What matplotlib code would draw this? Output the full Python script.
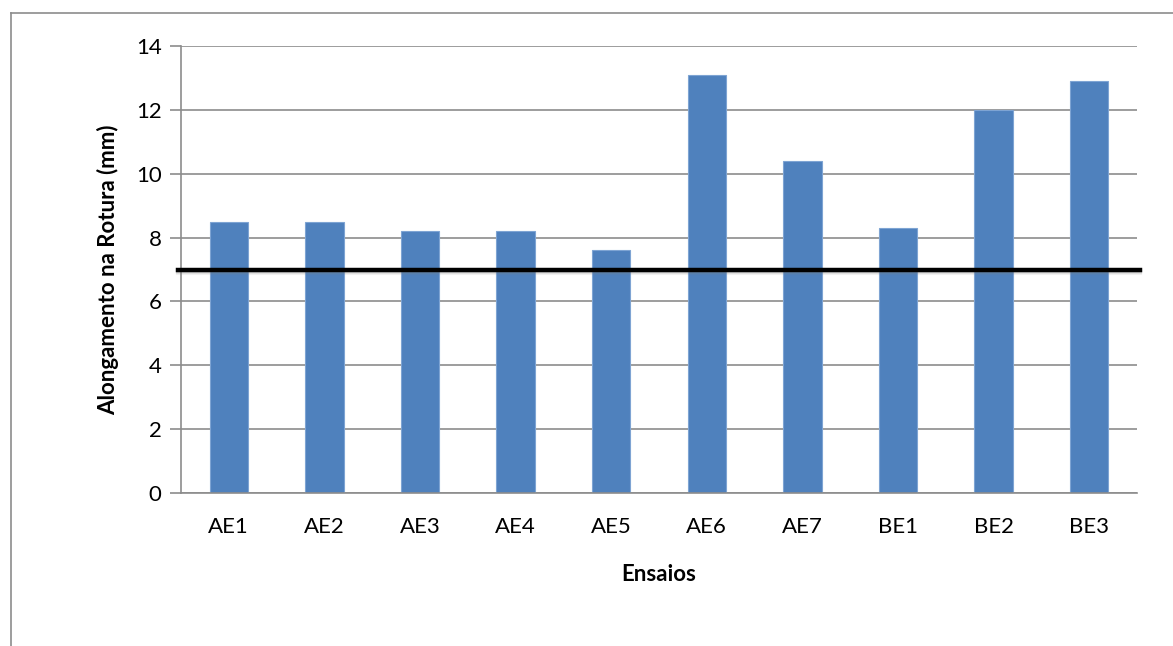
import numpy as np
import matplotlib.pyplot as plt

ensaios = ["AE1", "AE2", "AE3", "AE4", "AE5", "AE6", "AE7", "BE1", "BE2", "BE3"]
alongamento = [8.5, 8.5, 8.2, 8.2, 7.6, 13.1, 10.4, 8.3, 12.0, 12.9]
limite = 7.0

plt.rcParams['font.family'] = ['Lato', 'DejaVu Sans']

fig = plt.figure(figsize=(11.73, 6.46), dpi=100)
ax = fig.add_axes([181 / 1173, 1 - 493 / 646, (1137 - 181) / 1173, (493 - 46) / 646])

# chart area frame (left + top only, the rest is cut off)
fig.add_artist(plt.Line2D([10.5 / 1173, 10.5 / 1173], [0, 1 - 13 / 646],
                          transform=fig.transFigure, color='#8c8c8c', lw=1.2))
fig.add_artist(plt.Line2D([10.5 / 1173, 1], [1 - 13 / 646, 1 - 13 / 646],
                          transform=fig.transFigure, color='#8c8c8c', lw=1.2))

x = np.arange(len(ensaios))
ax.bar(x, alongamento, width=0.4, color='#4f81bd', edgecolor='#7ea4d3',
       linewidth=0.8, zorder=2)

# reference line with a soft shadow underneath
for off, a in [(0.12, 0.10), (0.08, 0.15), (0.05, 0.2)]:
    ax.axhline(limite - off, color='#808080', lw=3, alpha=a, zorder=3,
               xmin=-0.003, xmax=1.003, clip_on=False)
ax.axhline(limite, color='black', lw=3.2, zorder=4, xmin=-0.003, xmax=1.003,
           clip_on=False)

ax.set_xlim(-0.5, len(ensaios) - 0.5)
ax.set_ylim(0, 14)
ax.set_yticks(np.arange(0, 15, 2))
ax.set_xticks(x)
ax.set_xticklabels(ensaios)
ax.yaxis.grid(True, color='#8c8c8c', lw=1.2, zorder=0)
ax.set_axisbelow(True)

for s in ['top', 'right']:
    ax.spines[s].set_visible(False)
for s in ['left', 'bottom']:
    ax.spines[s].set_color('#8c8c8c')
    ax.spines[s].set_linewidth(1.2)

ax.tick_params(axis='y', length=8, width=1.2, color='#8c8c8c', labelsize=16, pad=6)
ax.tick_params(axis='x', length=0, labelsize=16, pad=17)

ax.set_ylabel("Alongamento na Rotura (mm)", fontsize=16, fontweight='bold', labelpad=12)
ax.set_xlabel("Ensaios", fontsize=16, fontweight='bold', labelpad=20)

fig.savefig("out.png", dpi=100)
